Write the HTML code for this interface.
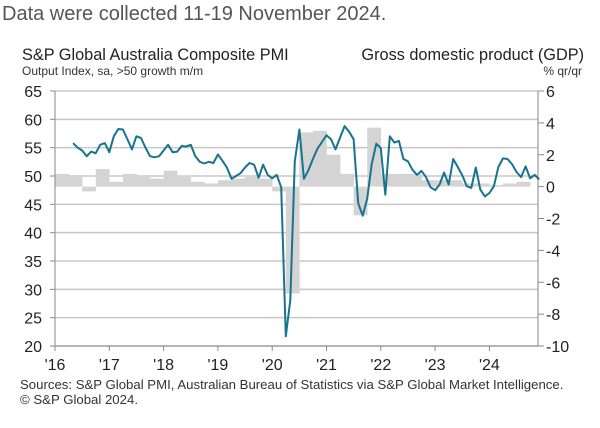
<!DOCTYPE html>
<html><head><meta charset="utf-8"><style>
body{margin:0;background:#fff;width:600px;height:423px;overflow:hidden;font-family:"Liberation Sans",sans-serif}
svg text{font-family:"Liberation Sans",sans-serif}
</style></head><body>
<svg id="c" width="600" height="423">
<text x="2" y="20" font-size="20" fill="#555">Data were collected 11-19 November 2024.</text>
<text x="22" y="60" font-size="16.3" fill="#222">S&amp;P Global Australia Composite PMI</text>
<text x="22" y="75" font-size="12" fill="#333">Output  Index, sa, &gt;50 growth m/m</text>
<text x="584" y="60" font-size="16.3" fill="#222" text-anchor="end">Gross domestic product (GDP)</text>
<text x="582" y="75" font-size="12" fill="#333" text-anchor="end">% qr/qr</text>
<g id="grid"></g><g id="bars"></g><g id="axes"></g><g id="line"></g>
<text x="20" y="389" font-size="13.2" fill="#333">Sources: S&amp;P Global PMI, Australian Bureau of Statistics via S&amp;P Global Market Intelligence.</text>
<text x="20" y="404" font-size="13.2" fill="#333">© S&amp;P Global 2024.</text>
</svg>
<script>
const leftTicks=[20,25,30,35,40,45,50,55,60,65];
const rightTicks=[-10,-8,-6,-4,-2,0,2,4,6];
const yearLabels=["'16","'17","'18","'19","'20","'21","'22","'23","'24"];
const pmiStart=2016+4/12;
const pmi=[55.8,55,54.5,53.5,54.3,54,55.5,55.8,
54.2,57,58.3,58.2,56.5,54.7,57,56.7,55,53.5,53.3,53.5,
54.5,55.5,54.2,54.3,55.3,55.2,55.5,53.5,52.5,52.2,52.5,52.3,
53.8,52.7,51.5,49.5,50,50.5,51.5,52.3,52,49.7,52,50.2,
49.6,50.2,48,21.7,28.1,52.6,58.2,49.5,51,53,54.8,56,
57.2,56.5,54.7,56.8,58.8,57.8,56.5,45.2,43,46,52.1,55.7,
54.9,46.7,57,55.9,56.2,53,52.6,51.1,50.2,50.9,49.8,48,
47.5,48.5,50.6,48.5,53,51.6,50.1,48.2,47.9,51.5,47.6,46.4,
47,48.2,51.6,53.1,53,52.1,50.7,49.8,51.7,49.6,50.2,49.4];
const gdp=[0.8,0.6,-0.3,1.1, 0.3,0.8,0.6,0.5, 1.0,0.7,0.3,0.2, 0.4,0.5,0.6,0.5,
-0.3,-6.7,3.4,3.5, 2.0,0.8,-1.8,3.7, 0.8,0.8,0.8,0.4, 0.4,0.4,0.2,0.2, 0.1,0.2,0.3];
const X0=55,X1=538,Y65=91,Y20=346,YW=54.3;
const xs=t=>X0+(t-2016)*YW;
const yl=v=>Y65+(65-v)*(Y20-Y65)/45;
const yr=v=>Y65+(6-v)*(Y20-Y65)/16;
const NS='http://www.w3.org/2000/svg';
function mk(tag,at,parent){const e=document.createElementNS(NS,tag);for(const k in at)e.setAttribute(k,at[k]);document.getElementById(parent).appendChild(e);return e;}
leftTicks.forEach(v=>{
 const g=mk('line',{x1:X0,x2:X1,y1:yl(v),y2:yl(v),stroke:'#c8c8c8','stroke-width':1.5},'grid');
 
 
 const t=mk('text',{x:42,y:yl(v)+6,'font-size':16,'text-anchor':'end',fill:'#222'},'axes');t.textContent=v;
 
 
 mk('line',{x1:X0-5,x2:X0,y1:yl(v),y2:yl(v),stroke:'#888'},'axes');
});
rightTicks.forEach(v=>{
 const t=mk('text',{x:546,y:yr(v)+6,'font-size':16,fill:'#222'},'axes');t.textContent=v;
 
 
 mk('line',{x1:X1,x2:X1+6,y1:yr(v),y2:yr(v),stroke:'#888'},'axes');
});
gdp.forEach((v,i)=>{
 const xa=xs(2016+i/4),xb=xs(2016+(i+1)/4);
 const y0=yr(0),y=yr(v);
 const r=mk('rect',{x:xa,y:Math.min(y0,y),width:xb-xa+0.3,height:Math.abs(y-y0),fill:'#d4d4d4'},'bars');
 
 
});
mk('line',{x1:X0,x2:X0,y1:Y65,y2:Y20,stroke:'#999','stroke-width':1.2},'axes');
mk('line',{x1:X1,x2:X1,y1:Y65,y2:Y20,stroke:'#999','stroke-width':1.2},'axes');
mk('line',{x1:X0,x2:X1,y1:Y20,y2:Y20,stroke:'#999','stroke-width':1.2},'axes');
yearLabels.forEach((s,i)=>{
 const x=xs(2016+i);
 mk('line',{x1:x,x2:x,y1:Y20,y2:Y20+5,stroke:'#888'},'axes');
 const t=mk('text',{x:x,y:370,'font-size':16,'text-anchor':'middle',fill:'#222'},'axes');t.textContent=s;
 
 
});
const pts=pmi.map((v,i)=>xs(pmiStart+i/12).toFixed(1)+','+yl(v).toFixed(1)).join(' ');
const pl=mk('polyline',{points:pts,fill:'none',stroke:'#17738e','stroke-width':2,'stroke-linejoin':'round'},'line');


</script>
</body></html>
